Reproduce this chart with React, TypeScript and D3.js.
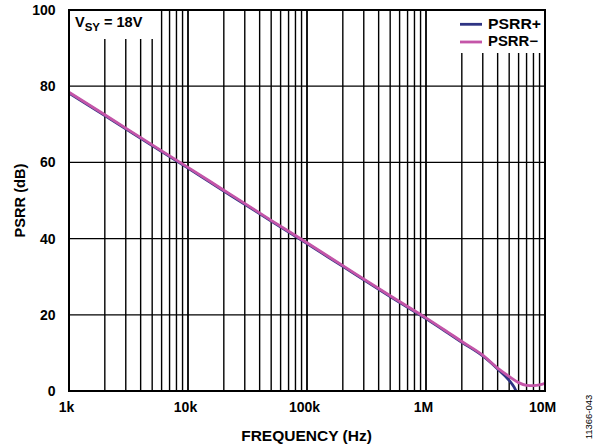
import React from "react";
import * as d3 from "d3";

const freqPlus = [1e3, 2e3, 5e3, 1e4, 2e4, 5e4, 1e5, 2e5, 5e5, 1e6, 1.5e6, 2e6, 3e6, 4e6, 5e6, 5.5e6, 5.8e6];
const psrrPlus = [78.2, 72.3, 64.4, 58.5, 52.5, 44.6, 38.7, 32.7, 24.8, 19.0, 15.4, 12.8, 9.2, 5.8, 2.8, 1.0, -0.5];
const freqMinus = [1e3, 2e3, 5e3, 1e4, 2e4, 5e4, 1e5, 2e5, 5e5, 1e6, 1.5e6, 2e6, 3e6, 4e6, 5e6, 6e6, 7e6, 8e6, 9e6, 1e7];
const psrrMinus = [78.4, 72.5, 64.6, 58.7, 52.7, 44.8, 38.9, 32.9, 25.0, 19.2, 15.6, 13.0, 9.4, 6.0, 3.8, 2.2, 1.5, 1.4, 1.6, 2.0];
const xTickValues = [1e3, 1e4, 1e5, 1e6, 1e7];
const xTickLabels = ["1k", "10k", "100k", "1M", "10M"];
const yTickValues = [0, 20, 40, 60, 80, 100];

const W = 598, H = 448;
const L = 69, R = 545, T = 10, B = 391;

export default function App() {
  const x = d3.scaleLog().domain([1e3, 1e7]).range([L, R]);
  const y = d3.scaleLinear().domain([0, 100]).range([B, T]);
  const minor: number[] = [];
  for (let d = 1e3; d < 1e7; d *= 10) for (let m = 2; m <= 9; m++) minor.push(d * m);
  const line = d3.line<[number, number]>().x(d => x(d[0])).y(d => y(d[1])).curve(d3.curveMonotoneX);
  const plus = line(freqPlus.map((f, i) => [f, psrrPlus[i]]) as [number, number][]);
  const minus = line(freqMinus.map((f, i) => [f, psrrMinus[i]]) as [number, number][]);
  const font = "Arial, 'Liberation Sans', sans-serif";
  return (
    <svg width={W} height={H} style={{ position: "absolute", left: 0, top: 0 }} fontFamily={font}>
      <defs>
        <clipPath id="plot"><rect x={L} y={T} width={R - L} height={B - T} /></clipPath>
      </defs>
      <rect width={W} height={H} fill="#fff" />
      {[...minor, ...xTickValues.slice(1, -1)].map((f, i) => (
        <line key={"v" + i} x1={x(f)} x2={x(f)} y1={T} y2={B} stroke="#000" strokeWidth={xTickValues.includes(f) ? 1.8 : 1.4} />
      ))}
      {yTickValues.slice(1, -1).map((v, i) => (
        <line key={"h" + i} x1={L} x2={R} y1={y(v)} y2={y(v)} stroke="#000" strokeWidth={1.3} />
      ))}
      <rect x={L + 1} y={T + 1} width={87} height={28} fill="#fff" />
      <rect x={427} y={T + 1} width={116} height={42} fill="#fff" />
      <g clipPath="url(#plot)">
        <path d={plus || ""} fill="none" stroke="#2E3383" strokeWidth={2.8} />
        <path d={minus || ""} fill="none" stroke="#C455A8" strokeWidth={2.8} />
      </g>
      <rect x={L} y={T} width={R - L} height={B - T} fill="none" stroke="#000" strokeWidth={2} />
      <text x={75} y={26.7} fontSize={14.5} fontWeight="bold">V<tspan fontSize={11.5} dy={4}>SY</tspan><tspan dy={-4}> = 18V</tspan></text>
      <line x1={460} x2={482} y1={24.3} y2={24.3} stroke="#2E3383" strokeWidth={2.8} />
      <line x1={460} x2={482} y1={42} y2={42} stroke="#C455A8" strokeWidth={2.8} />
      <text x={488} y={28.7} fontSize={14} fontWeight="bold" textLength={53} lengthAdjust="spacingAndGlyphs">PSRR+</text>
      <text x={488} y={46} fontSize={14} fontWeight="bold" textLength={50} lengthAdjust="spacingAndGlyphs">PSRR−</text>
      {yTickValues.map((v, i) => (
        <text key={"yl" + i} x={55.5} y={y(v) + 5} fontSize={14} fontWeight="bold" textAnchor="end">{v}</text>
      ))}
      {xTickValues.map((f, i) => (
        <text key={"xl" + i} x={x(f) - 2.5} y={412} fontSize={14} fontWeight="bold" textAnchor="middle">{xTickLabels[i]}</text>
      ))}
      <text x={306.5} y={441} fontSize={15.5} fontWeight="bold" textAnchor="middle">FREQUENCY (Hz)</text>
      <text transform={`translate(24.5,${(T + B) / 2}) rotate(-90)`} fontSize={14.6} fontWeight="bold" textAnchor="middle">PSRR (dB)</text>
      <text transform={`translate(592,417) rotate(-90)`} fontSize={9.5} textAnchor="middle">11366-043</text>
    </svg>
  );
}
